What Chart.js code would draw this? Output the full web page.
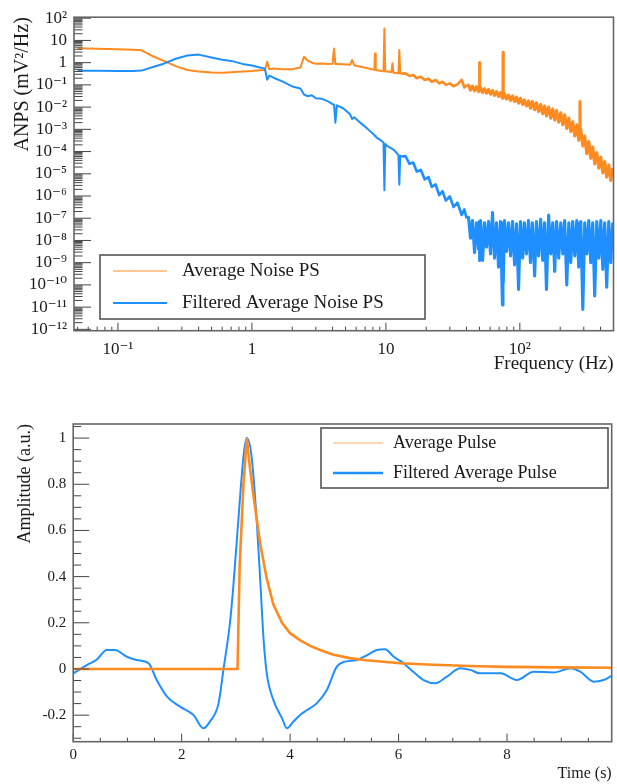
<!DOCTYPE html>
<html>
<head>
<meta charset="utf-8">
<script src="https://cdn.jsdelivr.net/npm/chart.js@4.4.1/dist/chart.umd.min.js"></script>
<style>
  html, body { margin: 0; padding: 0; background: #fff; }
  #wrap { position: relative; width: 617px; height: 784px; }
  canvas { position: absolute; left: 0; }
  #psChart { top: 0; }
  #pulseChart { top: 392px; }
</style>
</head>
<body>
<div id="wrap">
  <canvas id="psChart" width="617" height="392"></canvas>
  <canvas id="pulseChart" width="617" height="392"></canvas>
</div>
<script>
// ---------- Noise power spectra (mV^2/Hz) ----------
const freqHz = [
  0.05, 0.07, 0.1, 0.13, 0.15, 0.18, 0.22, 0.27, 0.33, 0.4,
  0.5, 0.6, 0.7, 0.85, 1.0, 1.15, 1.25, 1.3, 1.35, 1.45,
  1.7, 2.0, 2.3, 2.45, 2.6, 2.8, 3.0, 3.3, 3.7, 4.0,
  4.1, 4.2, 4.3, 4.8, 5.4, 5.6, 5.8, 6.5, 7.3, 8.0,
  8.2, 8.3, 8.4, 8.6, 9.3, 9.6, 9.75, 9.9, 10.2, 11.0,
  11.2, 11.4, 11.6, 12.4, 12.6, 12.8, 13.2,
  14, 15, 16, 17, 18.2, 19.5, 20.8, 22, 23.5, 25,
  26.5, 28, 30, 32, 34.2, 36.8, 38.5, 40,
  41.4, 42.8, 44.3, 45.9, 47.5, 49.2, 49.8, 50, 50.2, 50.9,
  52.7, 54.5, 56.4, 58.4, 60.4, 62.5, 64.7, 67, 69.3, 71.7,
  74.2, 74.8, 75, 75.2, 76.8, 79.5, 82.3, 85.2, 88.2, 91.3,
  94.5, 97.8, 101, 105, 108, 112, 116, 120, 124, 129,
  133, 138, 143, 148, 153, 158, 164, 170, 176, 182,
  188, 195, 202, 209, 216, 224, 232, 240, 248, 257,
  266, 275, 280, 281, 282, 285, 295, 305, 316, 327,
  338, 350, 362, 375, 388, 402, 416, 430, 445, 461,
  477, 494
];

const avgNoisePS = [
  4.4, 4.2, 4.0, 3.8, 3.6, 2.0, 1.2, 0.7, 0.47, 0.40,
  0.36, 0.35, 0.37, 0.40, 0.42, 0.46, 0.47, 1.1, 0.5, 0.54,
  0.51, 0.51, 0.6, 1.85, 1.25, 1.0, 0.9, 0.92, 0.88, 0.9,
  4.3, 0.88, 0.88, 0.85, 0.81, 1.3, 0.77, 0.66, 0.56, 0.49,
  0.48, 2.6, 0.47, 0.46, 0.42, 0.41, 34, 0.40, 0.40, 0.38,
  0.93, 0.36, 0.34, 0.33, 3.7, 0.33, 0.32,
  0.33, 0.25, 0.28, 0.2, 0.23, 0.166, 0.19, 0.138, 0.166, 0.117,
  0.138, 0.1, 0.117, 0.087, 0.105, 0.17, 0.076, 0.095,
  0.095, 0.058, 0.089, 0.054, 0.083, 0.05, 0.071, 1.0, 0.056, 0.076,
  0.045, 0.068, 0.042, 0.063, 0.038, 0.056, 0.034, 0.05, 0.03, 0.045,
  0.025, 0.035, 2.9, 0.028, 0.04, 0.023, 0.035, 0.02, 0.032, 0.0178,
  0.028, 0.015, 0.025, 0.0132, 0.021, 0.0112, 0.019, 0.0089, 0.0178, 0.0076,
  0.0158, 0.0063, 0.0132, 0.005, 0.0112, 0.004, 0.01, 0.0032, 0.0083, 0.0026,
  0.0071, 0.0021, 0.0056, 0.0016, 0.0045, 0.0011, 0.0032, 7.9e-4, 0.0022, 5.0e-4,
  0.0016, 3.2e-4, 0.001, 0.018, 4.0e-4, 0.001, 1.8e-4, 5.0e-4, 7.9e-5, 2.8e-4,
  5.0e-5, 1.6e-4, 2.8e-5, 8.9e-5, 1.8e-5, 5.6e-5, 1.1e-5, 3.5e-5, 7.1e-6, 2.5e-5,
  5.0e-6, 1.8e-5
];

const filteredNoisePS = [
  0.43, 0.43, 0.42, 0.42, 0.44, 0.62, 0.9, 1.5, 2.1, 2.3,
  1.7, 1.35, 1.2, 0.88, 0.74, 0.6, 0.54, 0.17, 0.26, 0.21,
  0.14, 0.085, 0.069, 0.037, 0.031, 0.034, 0.025, 0.024, 0.018, 0.0135,
  0.013, 0.002, 0.012, 0.0089, 0.0048, 0.0029, 0.0035, 0.0019, 0.00105, 6.3e-4,
  5.5e-4, 5.0e-4, 4.7e-4, 4.1e-4, 3.0e-4, 2.6e-4, 1.8e-6, 2.2e-4, 1.8e-4, 1.4e-4,
  1.3e-4, 1.2e-4, 1.1e-4, 7.0e-5, 3.2e-6, 6.5e-5, 5.9e-5,
  6.3e-5, 2.8e-5, 3.2e-5, 1.26e-5, 1.5e-5, 5.6e-6, 7.1e-6, 2.6e-6, 3.3e-6, 1.1e-6,
  1.66e-6, 6.3e-7, 9.5e-7, 3.2e-7, 5.0e-7, 1.4e-7, 2.5e-7, 1.0e-7,
  1.1e-7, 1.26e-8, 7.9e-8, 2.8e-9, 6.3e-8, 4.0e-9, 7.1e-8, 2.5e-8, 1.26e-9, 7.9e-8,
  1.26e-9, 6.3e-8, 5.0e-9, 7.1e-8, 2.5e-9, 1.8e-7, 1.6e-9, 6.3e-8, 6.3e-10, 7.1e-8,
  1.26e-11, 6.3e-8, 1.0e-8, 1.26e-10, 7.9e-8, 3.2e-9, 6.3e-8, 2.0e-9, 7.1e-8, 7.9e-10,
  5.6e-8, 6.3e-11, 7.1e-8, 1.6e-9, 6.3e-8, 2.5e-9, 7.9e-8, 1.0e-9, 6.3e-8, 2.5e-10,
  7.1e-8, 2.0e-9, 8.9e-8, 1.26e-9, 6.3e-8, 6.3e-11, 1.4e-7, 2.5e-9, 6.3e-8, 4.0e-10,
  7.1e-8, 1.6e-9, 6.3e-8, 2.5e-9, 7.9e-8, 1.0e-10, 6.3e-8, 1.0e-9, 7.1e-8, 2.0e-9,
  7.9e-8, 6.3e-10, 6.3e-8, 1.6e-8, 1.6e-9, 7.1e-8, 7.9e-12, 6.3e-8, 2.5e-9, 7.9e-8,
  1.0e-9, 6.3e-8, 3.2e-11, 7.1e-8, 1.6e-9, 7.9e-8, 5.0e-10, 6.3e-8, 7.9e-11, 7.1e-8,
  1.0e-9, 6.3e-8
];

const psXTicks = [0.1, 1, 10, 100];
const psXLabels = ['10\u207B\u00B9', '1', '10', '10\u00B2'];
const psYTicks = [1e2, 1e1, 1, 1e-1, 1e-2, 1e-3, 1e-4, 1e-5, 1e-6, 1e-7, 1e-8, 1e-9, 1e-10, 1e-11, 1e-12];
const psYLabels = ['10\u00B2', '10', '1', '10\u207B\u00B9', '10\u207B\u00B2', '10\u207B\u00B3', '10\u207B\u2074',
  '10\u207B\u2075', '10\u207B\u2076', '10\u207B\u2077', '10\u207B\u2078', '10\u207B\u2079',
  '10\u207B\u00B9\u2070', '10\u207B\u00B9\u00B9', '10\u207B\u00B9\u00B2'];

// ---------- Average pulses (a.u.) ----------
const pulseTime = [0, 1, 2, 3.03, 3.07, 3.14, 3.2, 3.26, 3.33, 3.45,
  3.57, 3.69, 3.85, 4.0, 4.18, 4.37, 4.6, 4.8, 5.1, 5.4,
  5.72, 6.03, 6.64, 7.3, 8.0, 9.0, 9.93];
const avgPulse = [0, 0, 0, 0, 0.45, 0.8, 1.0, 0.87, 0.74, 0.54,
  0.39, 0.28, 0.2, 0.155, 0.125, 0.1, 0.078, 0.062, 0.047, 0.038,
  0.031, 0.025, 0.018, 0.013, 0.009, 0.007, 0.005];

const filtTime = [0, 0.25, 0.43, 0.62, 0.77, 0.99, 1.17, 1.39, 1.54, 1.73,
  1.97, 2.22, 2.4, 2.52, 2.68, 2.77, 2.89, 2.95, 3.05, 3.14,
  3.2, 3.29, 3.39, 3.45, 3.51, 3.57, 3.69, 3.85, 3.94, 4.06,
  4.18, 4.3, 4.49, 4.68, 4.86, 5.01, 5.23, 5.42, 5.6, 5.75,
  5.91, 6.09, 6.27, 6.46, 6.68, 6.89, 7.14, 7.32, 7.5, 7.88,
  8.18, 8.49, 8.86, 9.17, 9.35, 9.6, 9.78, 9.93];
const filtPulse = [-0.02, 0.017, 0.04, 0.082, 0.082, 0.053, 0.039, 0.025, -0.048, -0.12,
  -0.163, -0.2, -0.257, -0.228, -0.149, -0.004, 0.198, 0.35, 0.66, 0.92,
  1.0, 0.92, 0.62, 0.38, 0.13, -0.02, -0.134, -0.213, -0.257, -0.228,
  -0.2, -0.18, -0.149, -0.09, 0.01, 0.032, 0.039, 0.06, 0.082, 0.085,
  0.053, 0.025, -0.012, -0.048, -0.062, -0.033, 0.003, -0.004, -0.019, -0.019,
  -0.048, -0.012, -0.015, 0.003, -0.012, -0.055, -0.048, -0.03];

const pulseXTicks = [0, 2, 4, 6, 8];
const pulseXLabels = ['0', '2', '4', '6', '8'];
const pulseYTicks = [-0.2, 0, 0.2, 0.4, 0.6, 0.8, 1];
const pulseYLabels = ['-0.2', '0', '0.2', '0.4', '0.6', '0.8', '1'];

// ---------- styling ----------
const ORANGE = '#ff8a1f';
const BLUE = '#1f8fff';
const INK = '#1a1a1a';
const SERIF = '"Liberation Serif", "Times New Roman", "DejaVu Serif", serif';

const xy = (xs, ys) => xs.map((x, i) => ({ x, y: ys[i] }));

// the dense high-frequency part of a spectrum is stroked a little heavier
const noisyWidth = ctx => (ctx.p0.parsed.x >= 40 ? 3.1 : ctx.p0.parsed.x >= 13.2 ? 2.6 : 2.0);

// Inward major/minor tick marks and the surrounding frame, placed through the scales
function tickValues(s, cfg) {
  const out = [];
  if (s.type === 'logarithmic') {
    const d0 = Math.floor(Math.log10(s.min)), d1 = Math.ceil(Math.log10(s.max));
    for (let d = d0; d <= d1; d++) {
      for (let m = 1; m <= 9; m++) {
        const v = m * Math.pow(10, d);
        if (v >= s.min && v <= s.max) out.push([v, m === 1]);
      }
    }
  } else {
    const n0 = Math.ceil(s.min / cfg.step - 1e-9), n1 = Math.floor(s.max / cfg.step + 1e-9);
    for (let n = n0; n <= n1; n++) {
      const v = n * cfg.step;
      const r = v / cfg.majorStep;
      out.push([v, Math.abs(r - Math.round(r)) < 1e-6]);
    }
  }
  return out;
}

const frameTicks = {
  id: 'frameTicks',
  afterDatasetsDraw(chart, _args, o) {
    const { ctx, chartArea: a } = chart;
    ctx.save();
    ctx.strokeStyle = o.tickColor;
    ctx.lineWidth = 1;
    ctx.beginPath();
    ['x', 'y'].forEach(id => {
      const s = chart.scales[id];
      const cfg = o[id];
      tickValues(s, cfg).forEach(([v, major]) => {
        const len = major ? cfg.major : cfg.minor;
        const p = s.getPixelForValue(v);
        if (id === 'x') {
          if (p < a.left || p > a.right) return;
          ctx.moveTo(p, a.bottom); ctx.lineTo(p, a.bottom - len);
        } else {
          if (p < a.top || p > a.bottom) return;
          ctx.moveTo(a.left, p); ctx.lineTo(a.left + len, p);
        }
      });
    });
    ctx.stroke();
    ctx.strokeStyle = o.frameColor;
    ctx.lineWidth = o.frameWidth;
    ctx.strokeRect(a.left, a.top, a.right - a.left, a.bottom - a.top);
    ctx.restore();
  }
};

// Boxed legend inside the plot, listing the datasets in order
const boxLegend = {
  id: 'boxLegend',
  afterDraw(chart, _args, o) {
    const ctx = chart.ctx;
    ctx.save();
    ctx.fillStyle = '#fff';
    ctx.fillRect(o.x, o.y, o.w, o.h);
    ctx.strokeStyle = o.borderColor;
    ctx.lineWidth = o.borderWidth;
    ctx.strokeRect(o.x, o.y, o.w, o.h);
    ctx.font = o.font;
    ctx.textBaseline = 'middle';
    chart.data.datasets.forEach((ds, i) => {
      const y = o.y + o.rowTop + i * o.rowGap;
      ctx.globalAlpha = o.lineAlpha[i];
      ctx.strokeStyle = ds.borderColor;
      ctx.lineWidth = o.lineWidth[i];
      ctx.beginPath();
      ctx.moveTo(o.x + o.lineFrom, y);
      ctx.lineTo(o.x + o.lineTo, y);
      ctx.stroke();
      ctx.globalAlpha = 1;
      ctx.fillStyle = o.textColor;
      ctx.fillText(ds.label, o.x + o.textAt, y);
    });
    ctx.restore();
  }
};

const tickFont = size => ({ family: SERIF, size });
const noGrid = { display: false, drawTicks: false };

// ---------- noise spectra ----------
new Chart(document.getElementById('psChart'), {
  type: 'line',
  data: {
    datasets: [
      { label: 'Average Noise PS', data: xy(freqHz, avgNoisePS), borderColor: ORANGE,
        borderWidth: 2.0, borderJoinStyle: 'round', pointRadius: 0, tension: 0, order: 1,
        segment: { borderWidth: noisyWidth } },
      { label: 'Filtered Average Noise PS', data: xy(freqHz, filteredNoisePS), borderColor: BLUE,
        borderWidth: 2.0, borderJoinStyle: 'round', pointRadius: 0, tension: 0, order: 0,
        segment: { borderWidth: noisyWidth } }
    ]
  },
  plugins: [frameTicks, boxLegend],
  options: {
    responsive: false, animation: false, devicePixelRatio: 1,
    events: [],
    layout: { padding: { left: 0, right: 3.5, top: 14, bottom: 0 } },
    plugins: {
      legend: { display: false },
      tooltip: { enabled: false },
      frameTicks: {
        tickColor: '#444', frameColor: '#666', frameWidth: 1.6,
        x: { major: 8, minor: 4 },
        y: { major: 17, minor: 8.5 }
      },
      boxLegend: {
        x: 100, y: 255, w: 325, h: 64, rowTop: 16, rowGap: 32,
        lineFrom: 13, lineTo: 67, textAt: 82,
        lineWidth: [1.6, 2.2], lineAlpha: [0.65, 1],
        font: '19px ' + SERIF, textColor: INK,
        borderColor: '#555', borderWidth: 1.6
      }
    },
    scales: {
      x: {
        type: 'logarithmic', min: 0.047, max: 500,
        afterBuildTicks: s => { s.ticks = psXTicks.map(v => ({ value: v })); },
        afterFit: s => { s.height = 61.3; },
        grid: noGrid, border: { display: false },
        ticks: { autoSkip: false, maxRotation: 0, padding: 9, color: INK, font: tickFont(17),
          callback: (v, i) => psXLabels[i] },
        title: { display: true, text: 'Frequency (Hz)', align: 'end', color: INK,
          font: { family: SERIF, size: 19 }, padding: { top: 0, bottom: 17 } }
      },
      y: {
        type: 'logarithmic', min: 8.7e-13, max: 111,
        afterBuildTicks: s => { s.ticks = psYTicks.map(v => ({ value: v })); },
        afterFit: s => { s.width = 74; },
        grid: noGrid, border: { display: false },
        ticks: { autoSkip: false, padding: 7, color: INK, font: tickFont(17),
          callback: (v, i) => psYLabels[i] },
        title: { display: true, text: 'ANPS (mV\u00B2/Hz)', align: 'end', color: INK,
          font: { family: SERIF, size: 20 }, padding: { top: 11, bottom: 0 } }
      }
    }
  }
});

// ---------- average pulses ----------
new Chart(document.getElementById('pulseChart'), {
  type: 'line',
  data: {
    datasets: [
      { label: 'Average Pulse', data: xy(pulseTime, avgPulse), borderColor: ORANGE,
        borderWidth: 2.6, pointRadius: 0, tension: 0, order: 0 },
      { label: 'Filtered Average Pulse', data: xy(filtTime, filtPulse), borderColor: BLUE,
        borderWidth: 2, pointRadius: 0, cubicInterpolationMode: 'monotone', order: 1 }
    ]
  },
  plugins: [frameTicks, boxLegend],
  options: {
    responsive: false, animation: false, devicePixelRatio: 1,
    events: [],
    layout: { padding: { left: 0, right: 5.3, top: 32, bottom: 0 } },
    plugins: {
      legend: { display: false },
      tooltip: { enabled: false },
      frameTicks: {
        tickColor: '#444', frameColor: '#666', frameWidth: 1.6,
        x: { major: 8, minor: 4, step: 0.5, majorStep: 2 },
        y: { major: 16, minor: 8, step: 0.05, majorStep: 0.2 }
      },
      boxLegend: {
        x: 321, y: 36, w: 287, h: 60, rowTop: 15, rowGap: 30,
        lineFrom: 12, lineTo: 62, textAt: 72,
        lineWidth: [1.4, 2.4], lineAlpha: [0.45, 1],
        font: '18px ' + SERIF, textColor: INK,
        borderColor: '#555', borderWidth: 1.6
      }
    },
    scales: {
      x: {
        type: 'linear', min: 0, max: 9.93,
        afterBuildTicks: s => { s.ticks = pulseXTicks.map(v => ({ value: v })); },
        afterFit: s => { s.height = 42.3; },
        grid: noGrid, border: { display: false },
        ticks: { autoSkip: false, maxRotation: 0, padding: 4, color: INK, font: tickFont(15),
          callback: (v, i) => pulseXLabels[i] },
        title: { display: true, text: 'Time (s)', align: 'end', color: INK,
          font: { family: SERIF, size: 16 }, padding: { top: 0, bottom: 1 } }
      },
      y: {
        type: 'linear', min: -0.315, max: 1.061,
        afterBuildTicks: s => { s.ticks = pulseYTicks.map(v => ({ value: v })); },
        afterFit: s => { s.width = 73.2; },
        grid: noGrid, border: { display: false },
        ticks: { autoSkip: false, padding: 7, color: INK, font: tickFont(15),
          callback: (v, i) => pulseYLabels[i] },
        title: { display: true, text: 'Amplitude (a.u.)', align: 'end', color: INK,
          font: { family: SERIF, size: 18 }, padding: { top: 14, bottom: 0 } }
      }
    }
  }
});
</script>
</body>
</html>
